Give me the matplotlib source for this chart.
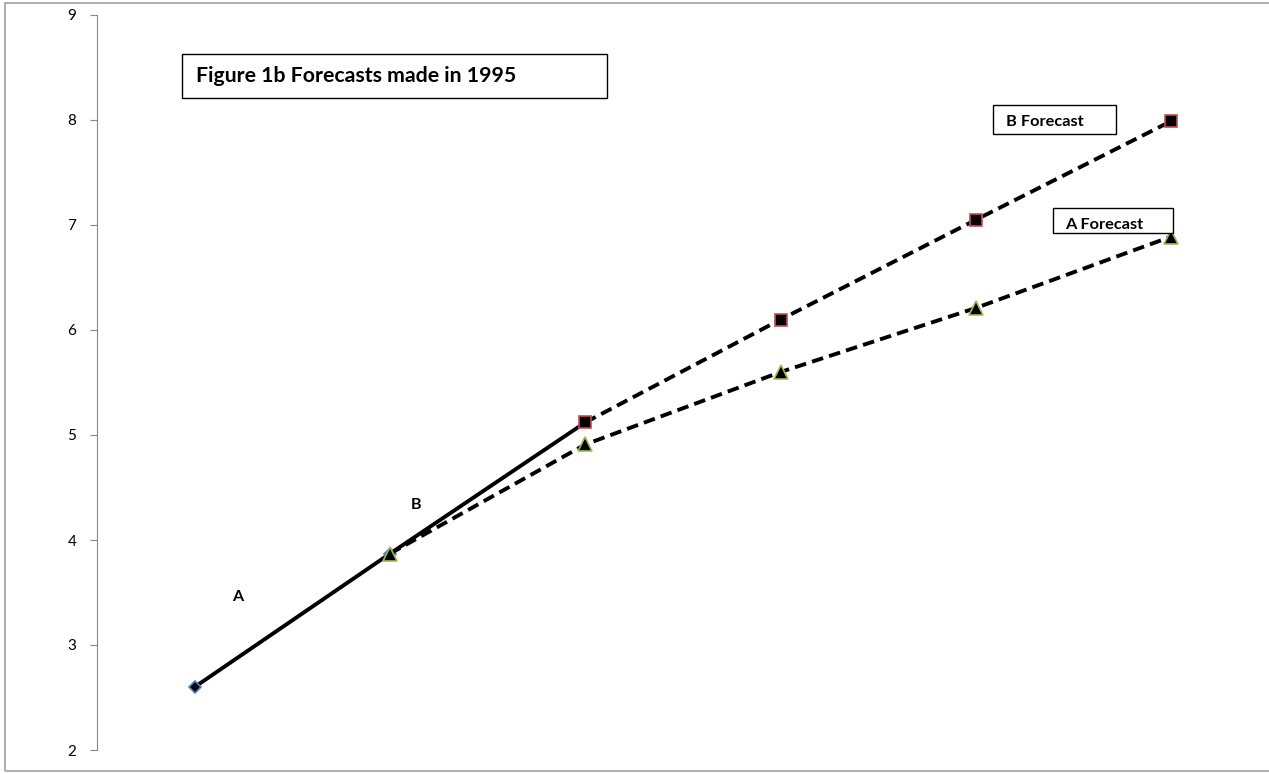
import matplotlib
matplotlib.use("Agg")
import matplotlib.pyplot as plt
from matplotlib.patches import Rectangle

# datos
x_hist = [1, 2, 3]
y_hist = [2.6, 3.87, 5.12]
x_b = [3, 4, 5, 6]
y_b = [5.12, 6.10, 7.05, 7.99]
x_a = [2, 3, 4, 5, 6]
y_a = [3.87, 4.91, 5.60, 6.21, 6.89]
yticks = [2, 3, 4, 5, 6, 7, 8, 9]

plt.rcParams['font.family'] = ['Lato', 'DejaVu Sans']

W, H = 1269, 774
fig = plt.figure(figsize=(W / 100, H / 100), dpi=100)
ax = fig.add_axes([97 / W, 1 - 750 / H, 1 - 97 / W, (750 - 15) / H])

# marco exterior
fig.patches.append(Rectangle((5 / W, 3 / H), (W - 3) / W, (H - 6) / H,
                             transform=fig.transFigure, fill=False,
                             edgecolor="#a0a0a0", linewidth=1.2))

# linea historica
ax.plot(x_hist, y_hist, color="black", lw=2.8, zorder=3)
ax.plot(x_hist[:2], y_hist[:2], ls="none", marker="D", ms=6.5,
        mfc="black", mec="#4f81bd", mew=1.2, zorder=4)
# pronostico B
ax.plot(x_b, y_b, color="black", lw=2.8, ls=(0, (3, 1.6)), marker="s", ms=8.5,
        mfc="black", mec="#c0504d", mew=1.2, zorder=5)
# pronostico A
ax.plot(x_a, y_a, color="black", lw=2.8, ls=(0, (3, 1.6)), marker="^", ms=9.5,
        mfc="black", mec="#9bbb59", mew=1.2, zorder=5)

ax.set_xlim(0.5, 6.5)
ax.set_ylim(2, 9)
ax.set_yticks(yticks)
ax.set_xticks([])
for s in ["top", "right", "bottom"]:
    ax.spines[s].set_visible(False)
ax.spines["left"].set_color("#868686")
ax.tick_params(axis="y", length=5, color="#868686", labelsize=11, pad=10)

# cuadros de texto
def caja(x0, y0, x1, y1, txt, tx, ty, fs):
    fig.patches.append(Rectangle((x0 / W, 1 - y1 / H), (x1 - x0) / W, (y1 - y0) / H,
                                 transform=fig.transFigure, fill=True, facecolor="white",
                                 edgecolor="black", linewidth=1.0, zorder=6))
    fig.text(tx / W, 1 - ty / H, txt, fontsize=fs, fontweight="bold",
             va="center", ha="left", zorder=7)

caja(182, 54, 607, 98, "Figure 1b Forecasts made in 1995", 196, 76, 15.3)
caja(993, 105, 1116, 134, "B Forecast", 1006, 122, 11.8)
caja(1053, 208, 1173, 233, "A Forecast", 1065, 225, 11.8)

fig.text(238 / W, 1 - 597 / H, "A", fontsize=11.5, fontweight="bold", ha="center", va="center")
fig.text(416 / W, 1 - 505 / H, "B", fontsize=11.5, fontweight="bold", ha="center", va="center")

fig.savefig("out.png", dpi=100)
